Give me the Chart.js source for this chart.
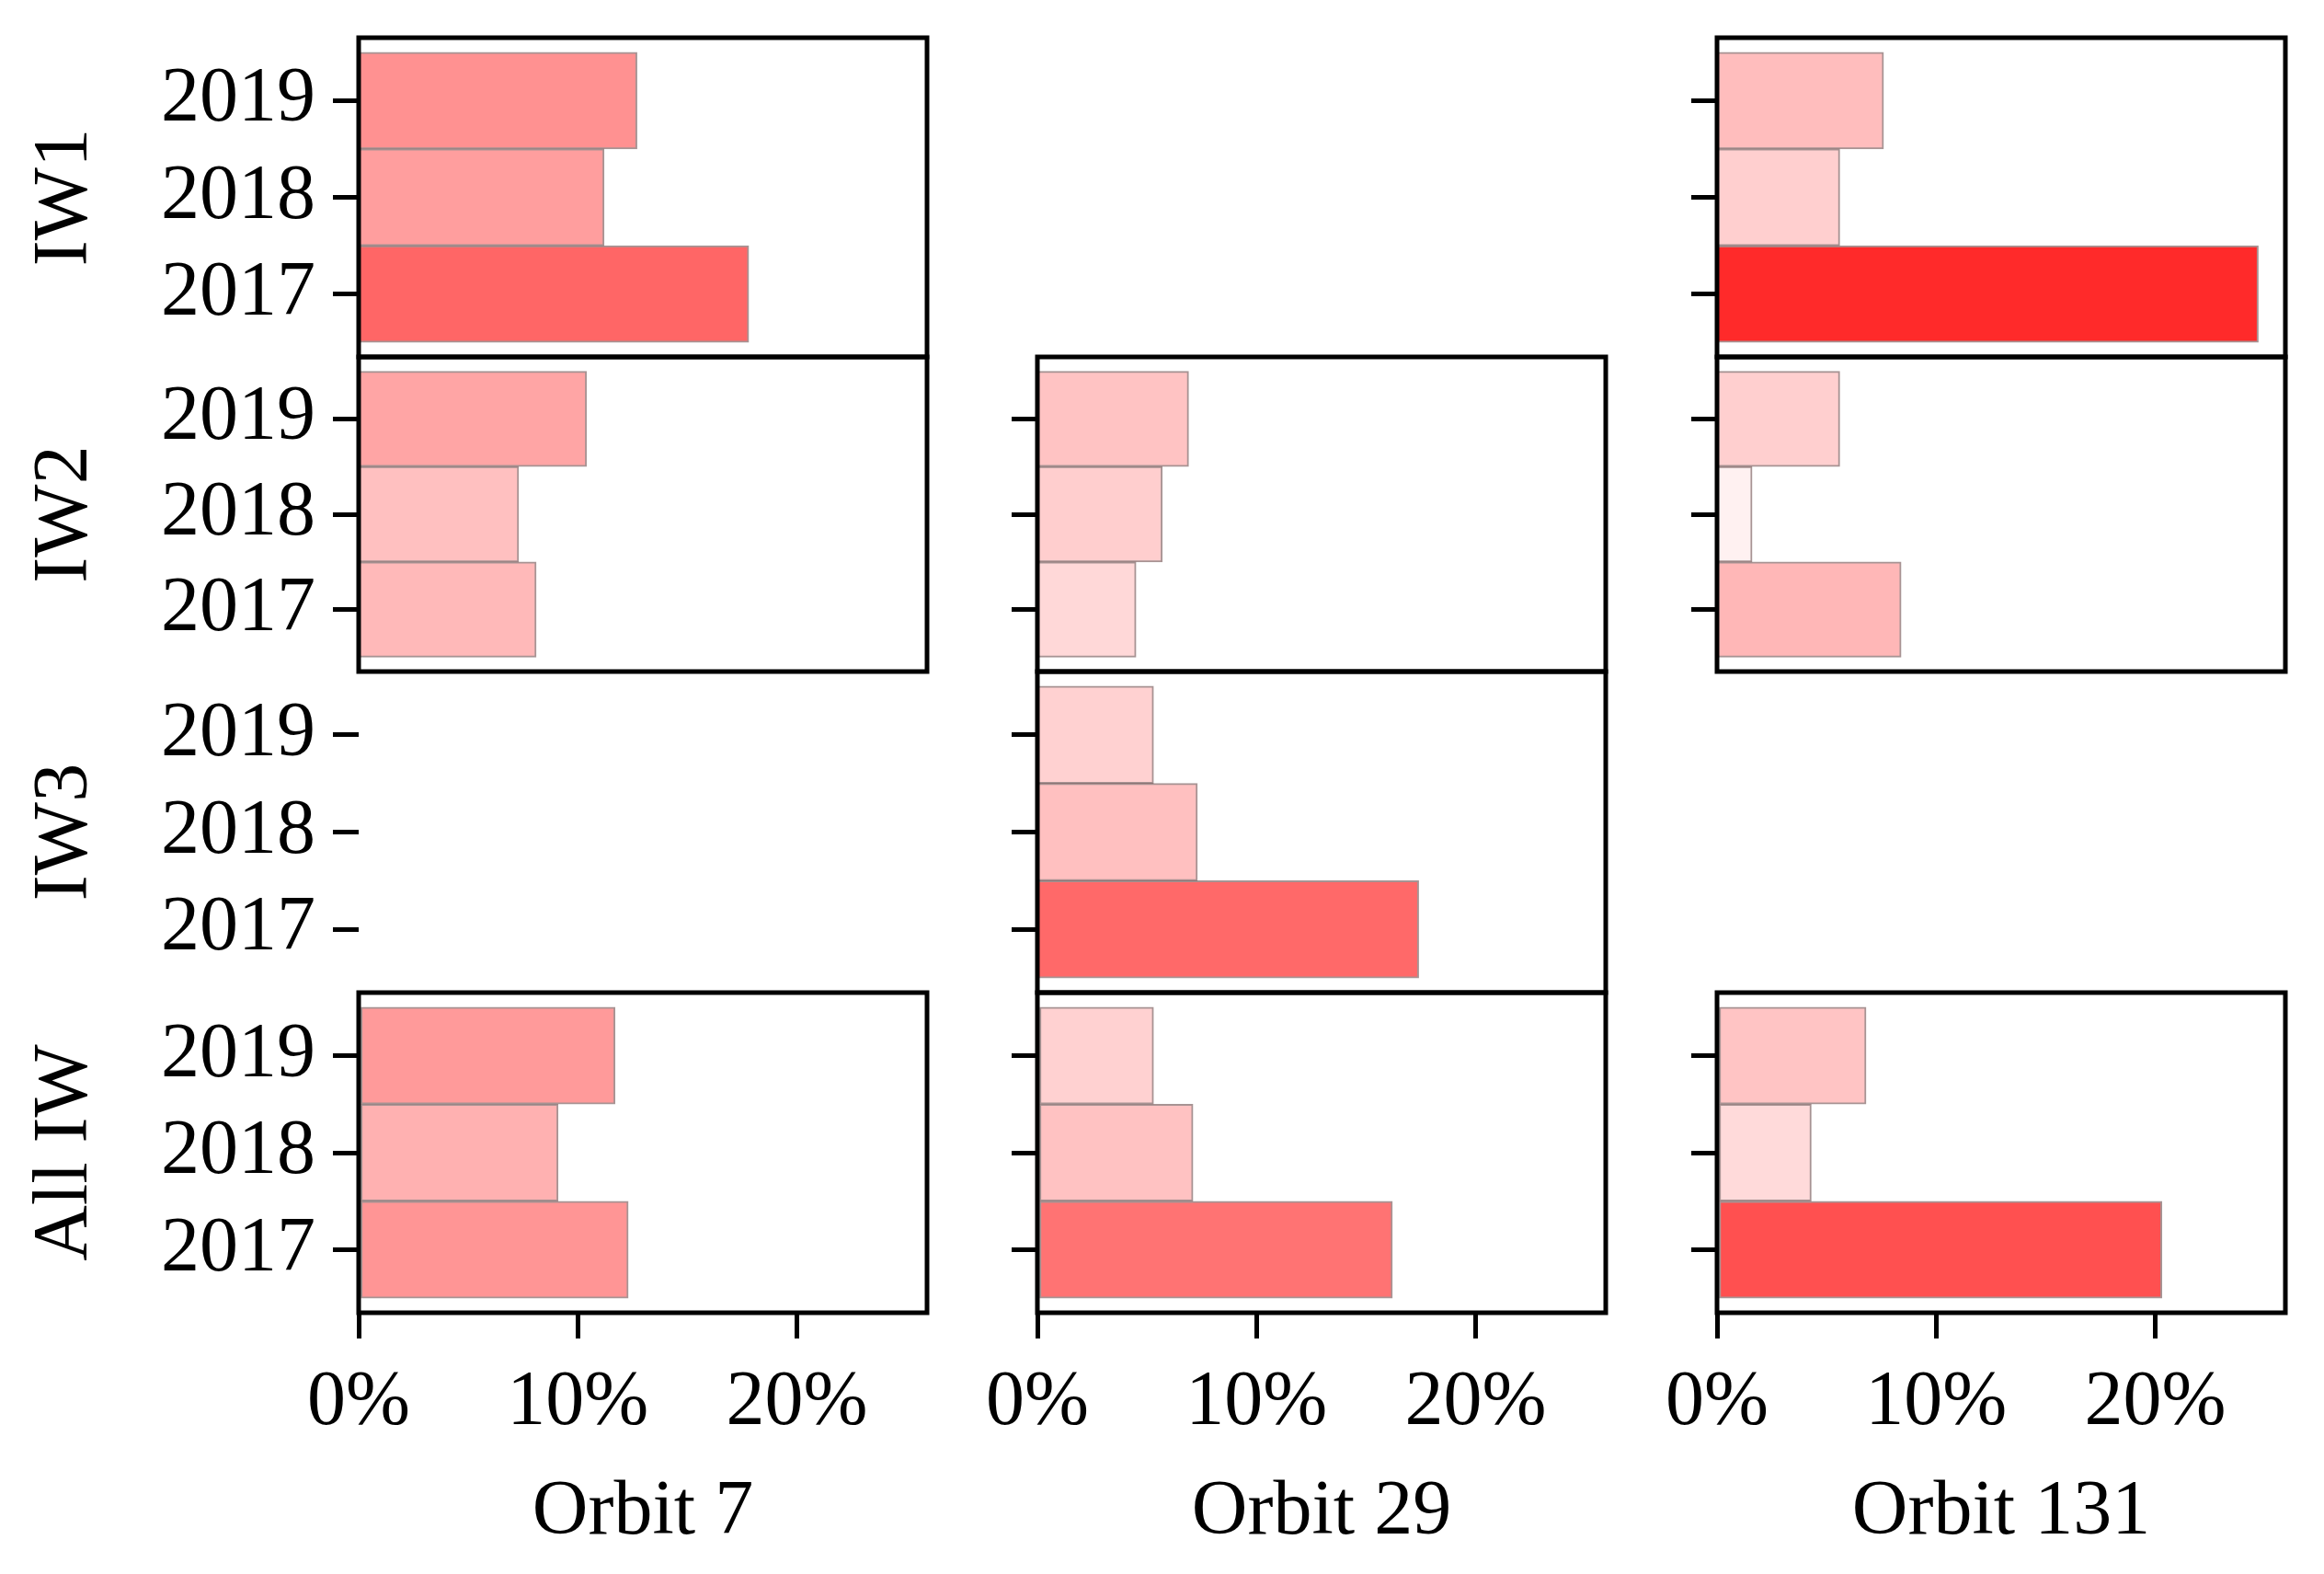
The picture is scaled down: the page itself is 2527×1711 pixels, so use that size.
<!DOCTYPE html>
<html>
<head>
<meta charset="utf-8">
<script src="https://cdn.jsdelivr.net/npm/chart.js@4/dist/chart.umd.min.js"></script>
<style>
  body { margin: 0; background: #fff; }
  #wrap { position: relative; width: 2527px; height: 1711px; overflow: hidden; }
  canvas { position: absolute; }
</style>
</head>
<body>
<div id="wrap"></div>
<script>
//Data (percent), order of each list: 2017, 2018, 2019. null = no panel
const years = ['2017', '2018', '2019'];
const swaths = ['IW1', 'IW2', 'IW3', 'All IW'];
const orbits = ['Orbit 7', 'Orbit 29', 'Orbit 131'];
const xTicks = [0, 10, 20];

const orbit7 = [[17.8, 11.2, 12.7], [8.1, 7.3, 10.4], null, [12.3, 9.1, 11.7]];
const orbit29 = [null, [4.5, 5.7, 6.9], [17.4, 7.3, 5.3], [16.2, 7.1, 5.3]];
const orbit131 = [[24.7, 5.6, 7.6], [8.4, 1.6, 5.6], null, [20.3, 4.3, 6.8]];

const orbitData = [orbit7, orbit29, orbit131];

//Layout of the grid of panels (pixels)
const colLefts = [390, 1128, 1867];
const plotWidth = 618;
const rowTops = [41, 388, 730, 1079, 1427];
const pageHeight = 1711;

Chart.defaults.font.family = '"Liberation Serif", "Times New Roman", serif';
Chart.defaults.color = '#000';

let allValues = [];
orbitData.forEach(o => o.forEach(r => { if (r) allValues = allValues.concat(r); }));
const vMax = Math.max(...allValues);
const xMax = vMax * 1.05; //same margin as the original plot

const barColor = v => { //white -> red depending on the value
    let g = Math.round(255 - 213 * v / vMax);
    return 'rgb(255,' + g + ',' + g + ')';
};

const framePlugin = {
    id: 'frame',
    afterDatasetsDraw(chart, args, opts) {
        if (!opts.show) return;
        const a = chart.chartArea;
        const c = chart.ctx;
        c.save();
        c.lineWidth = 5;
        c.strokeStyle = '#000';
        c.strokeRect(a.left, a.top, a.right - a.left, a.bottom - a.top);
        c.restore();
    }
};

const wrap = document.getElementById('wrap');

for (let r = 0; r < swaths.length; r++) {
    for (let c = 0; c < orbits.length; c++) {
        const values = orbitData[c][r];
        if (values === null && c !== 0) continue; //empty cell

        const yW = c === 0 ? 390 : 80;
        const isBottom = r === swaths.length - 1;
        const xH = isBottom ? pageHeight - rowTops[4] : 0;
        const top = rowTops[r] - 4;
        const height = rowTops[r + 1] - rowTops[r] + 4 + (isBottom ? xH : 4);
        const width = yW + plotWidth + 40;

        const canvas = document.createElement('canvas');
        canvas.width = width;
        canvas.height = height;
        canvas.style.left = (colLefts[c] - yW) + 'px';
        canvas.style.top = top + 'px';
        wrap.appendChild(canvas);

        const datasets = values === null ? [] : [{
            data: values.map((v, i) => ({x: v, y: i})),
            backgroundColor: values.map(v => barColor(v)),
            borderColor: 'rgba(80,40,40,0.5)',
            borderWidth: 2,
            borderSkipped: false,
            barPercentage: 1,
            categoryPercentage: 1
        }];

        new Chart(canvas, {
            type: 'bar',
            data: {datasets: datasets},
            plugins: [framePlugin],
            options: {
                indexAxis: 'y',
                responsive: false,
                animation: false,
                devicePixelRatio: 1,
                layout: {padding: {top: 4, right: 40, bottom: isBottom ? 0 : 4, left: 0}},
                plugins: {
                    legend: {display: false},
                    tooltip: {enabled: false},
                    frame: {show: values !== null}
                },
                scales: {
                    x: {
                        type: 'linear',
                        display: isBottom,
                        offset: false,
                        min: 0,
                        max: xMax,
                        afterBuildTicks: s => { s.ticks = xTicks.map(v => ({value: v})); },
                        afterFit: s => {
                            s.height = xH;
                            s.paddingLeft = 0;
                            s.paddingRight = 0;
                        },
                        grid: {drawOnChartArea: false, offset: false, tickLength: 28, lineWidth: 5, color: '#000'},
                        border: {display: false},
                        ticks: {
                            font: {size: 84},
                            padding: 21,
                            maxRotation: 0,
                            callback: v => v + '%'
                        },
                        title: {
                            display: true,
                            text: orbits[c],
                            font: {size: 84},
                            padding: {top: 0, bottom: 16}
                        }
                    },
                    y: {
                        type: 'linear',
                        offset: false,
                        min: -0.65,
                        max: 2.65,
                        afterBuildTicks: s => { s.ticks = years.map((y, i) => ({value: i})); },
                        afterFit: s => {
                            s.width = yW;
                            s.paddingTop = 0;
                            s.paddingBottom = 0;
                        },
                        grid: {drawOnChartArea: false, offset: false, tickLength: 28, lineWidth: 5, color: '#000'},
                        border: {display: false},
                        ticks: {
                            display: c === 0,
                            font: {size: 84},
                            padding: 19,
                            callback: v => years[v]
                        },
                        title: {
                            display: c === 0,
                            text: swaths[r],
                            font: {size: 84},
                            padding: {top: 22, bottom: 0}
                        }
                    }
                }
            }
        });
    }
}
</script>
</body>
</html>
